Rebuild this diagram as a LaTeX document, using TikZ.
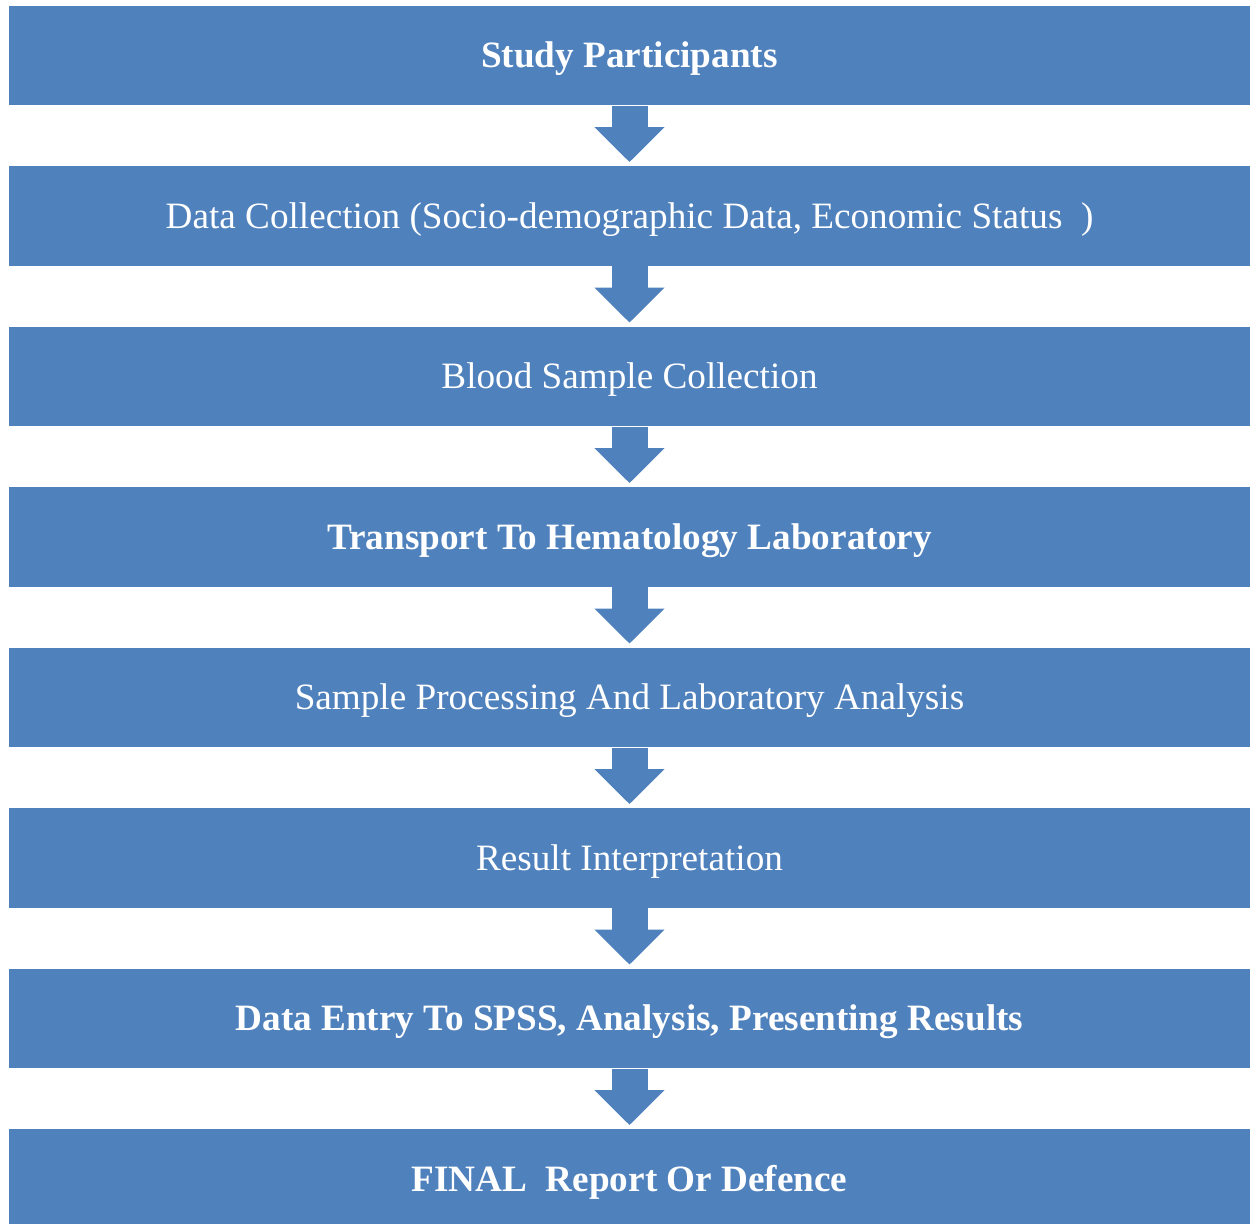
\documentclass[tikz,border=0pt]{standalone}
\usepackage{fontspec}
\setmainfont{Liberation Serif}
\usepackage{xcolor}
\usetikzlibrary{arrows.meta}
\definecolor{boxblue}{HTML}{4F81BD}

\begin{document}
\begin{tikzpicture}[x=0.5pt, y=-0.5pt]
\tikzstyle{stage}=[fill=boxblue, text=white, minimum width=620.5pt, minimum height=49.75pt, inner sep=0pt, text height=14.8pt, text depth=3pt, font=\fontsize{18.6}{22}\selectfont]
\tikzstyle{flow}=[boxblue, line width=18pt, -{Triangle[width=34pt, length=17.5pt]}, shorten >=2pt]
\useasboundingbox (0,0) rectangle (1250,1224);
\node[stage] (s1) at (629.5,55.75) {\textbf{Study Participants}};
\node[stage] (s2) at (629.5,216.25) {Data Collection (Socio-demographic Data, Economic Status~~)};
\node[stage] (s3) at (629.5,376.75) {Blood Sample Collection};
\node[stage] (s4) at (629.5,537.25) {\textbf{Transport To Hematology Laboratory}};
\node[stage] (s5) at (629.5,697.75) {Sample Processing And Laboratory Analysis};
\node[stage] (s6) at (629.5,858.25) {Result Interpretation};
\node[stage] (s7) at (629.5,1018.75) {\textbf{Data Entry To SPSS, Analysis, Presenting Results}};
\node[stage] (s8) at (629.5,1179.25) {\textbf{FINAL~~Report Or Defence}};

\foreach \a/\b in {s1/s2, s2/s3, s3/s4, s4/s5, s5/s6, s6/s7, s7/s8}
  \draw[flow] (\a.south) -- (\b.north);
\end{tikzpicture}
\end{document}
